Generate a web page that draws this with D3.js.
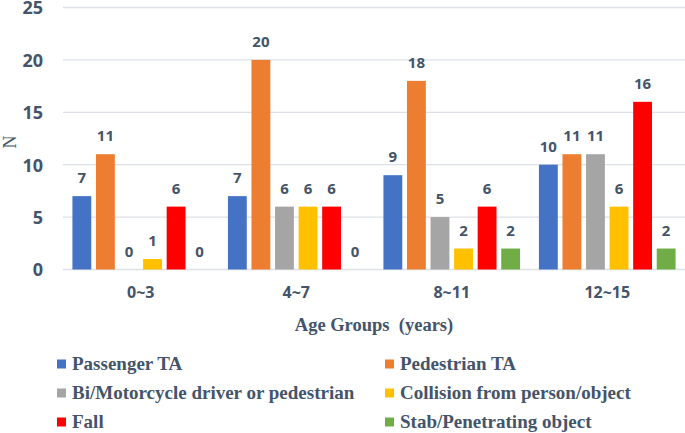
<!DOCTYPE html>
<html>
<head>
<meta charset="utf-8">
<script src="https://cdn.jsdelivr.net/npm/d3@7/dist/d3.min.js"></script>
<style>
  html, body { margin: 0; padding: 0; background: #fff; }
  svg { display: block; }
</style>
</head>
<body>
<svg id="chart" width="685" height="433"></svg>
<script>
const groups = ["0~3", "4~7", "8~11", "12~15"];
const seriesNames = [
  "Passenger TA",
  "Pedestrian TA",
  "Bi/Motorcycle driver or pedestrian",
  "Collision from person/object",
  "Fall",
  "Stab/Penetrating object"
];
const seriesColors = ["#4472C4", "#ED7D31", "#A5A5A5", "#FFC000", "#FF0000", "#70AD47"];
const passengerTA = [7, 7, 9, 10];
const pedestrianTA = [11, 20, 18, 11];
const biMotorcycle = [0, 6, 5, 11];
const collision = [1, 6, 2, 6];
const fall = [6, 6, 6, 16];
const stab = [0, 0, 2, 2];
const yTicks = [0, 5, 10, 15, 20, 25];

const seriesValues = [passengerTA, pedestrianTA, biMotorcycle, collision, fall, stab];
const textColor = "#44546A";
const numFont = "'Noto Sans', 'Open Sans', sans-serif";
const serifFont = "'Liberation Serif', 'Times New Roman', serif";

const svg = d3.select("#chart");

const x0 = d3.scaleBand().domain(groups).range([63, 685]).paddingInner(0).paddingOuter(0);
const x1 = d3.scaleBand().domain(seriesNames).range([0, x0.bandwidth()]).paddingInner(0.2).paddingOuter(0.4);
const y = d3.scaleLinear().domain([0, 25]).range([269.5, 7.5]);

// gridlines
svg.append("g").selectAll("line").data(yTicks).join("line")
  .attr("x1", 63).attr("x2", 685)
  .attr("y1", d => y(d)).attr("y2", d => y(d))
  .attr("stroke", "#dde1e7").attr("stroke-width", 1.3);

// y axis labels
const yAxis = d3.axisLeft(y).tickValues(yTicks).tickSize(0).tickPadding(0);
const gy = svg.append("g").attr("transform", "translate(43,0)").call(yAxis);
gy.select(".domain").remove();
gy.selectAll("text")
  .attr("font-family", numFont).attr("font-weight", "bold").attr("font-size", 18)
  .attr("fill", textColor).attr("dy", d => d === 25 ? "0.36em" : "0.36em");

// x axis labels
const xAxis = d3.axisBottom(x0).tickSize(0).tickPadding(0);
const gx = svg.append("g").attr("transform", "translate(0,290)").call(xAxis);
gx.select(".domain").remove();
gx.selectAll("text")
  .attr("font-family", numFont).attr("font-weight", "bold").attr("font-size", 16)
  .attr("fill", textColor).attr("dy", "0.5em");

// bars
const data = [];
groups.forEach((g, gi) => {
  seriesNames.forEach((s, si) => {
    data.push({ group: g, series: s, value: seriesValues[si][gi], color: seriesColors[si] });
  });
});

svg.append("g").selectAll("rect").data(data).join("rect")
  .attr("x", d => x0(d.group) + x1(d.series))
  .attr("width", x1.bandwidth())
  .attr("y", d => y(d.value))
  .attr("height", d => y(0) - y(d.value))
  .attr("fill", d => d.color);

// value labels
svg.append("g").selectAll("text").data(data).join("text")
  .attr("x", d => x0(d.group) + x1(d.series) + x1.bandwidth() / 2)
  .attr("y", d => y(d.value) - 13)
  .attr("text-anchor", "middle")
  .attr("font-family", numFont).attr("font-weight", "bold").attr("font-size", 15)
  .attr("fill", textColor)
  .text(d => d.value);

// axis titles
svg.append("text")
  .attr("x", 374).attr("y", 331)
  .attr("text-anchor", "middle")
  .attr("font-family", serifFont).attr("font-weight", "bold").attr("font-size", 18.5)
  .attr("fill", textColor)
  .style("white-space", "pre")
  .text("Age Groups  (years)");

svg.append("text")
  .attr("transform", "translate(16,142) rotate(-90)")
  .attr("text-anchor", "middle")
  .attr("font-family", serifFont).attr("font-size", 18)
  .attr("fill", textColor)
  .text("N");

// legend
const legendPos = [
  [57, 364], [385, 364],
  [57, 393], [385, 393],
  [57, 422], [385, 422]
];
const lg = svg.append("g").selectAll("g").data(seriesNames).join("g")
  .attr("transform", (d, i) => `translate(${legendPos[i][0]},${legendPos[i][1]})`);
lg.append("rect")
  .attr("x", 0).attr("y", -4.5).attr("width", 9).attr("height", 9)
  .attr("fill", (d, i) => seriesColors[i]);
lg.append("text")
  .attr("x", 15).attr("y", 0).attr("dy", "0.33em")
  .attr("font-family", serifFont).attr("font-weight", "bold").attr("font-size", 19)
  .attr("fill", textColor)
  .text(d => d);
</script>
</body>
</html>
